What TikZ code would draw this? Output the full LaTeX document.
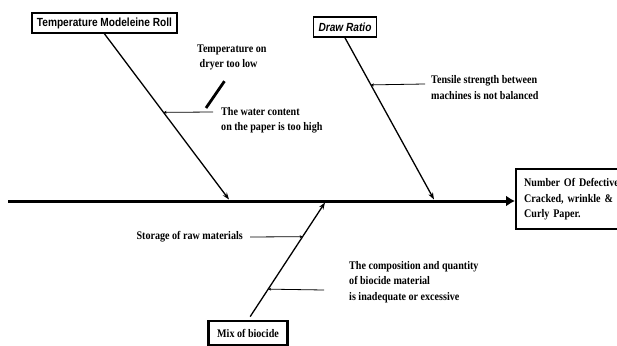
\documentclass[tikz,border=0pt]{standalone}
\usepackage{fontspec}
\setmainfont[FakeStretch=0.87]{Liberation Serif}
\newfontfamily\narrowsf[FakeStretch=0.86]{Liberation Sans}
\usetikzlibrary{arrows.meta, calc}

\begin{document}
\begin{tikzpicture}[
    x=1pt, y=-1pt,
    every node/.style={font=\bfseries\fontsize{11.6}{15.5}\selectfont, inner sep=0pt},
    cause/.style={draw, line width=1.7pt, minimum height=20pt, inner xsep=5pt,
        font=\narrowsf\bfseries\fontsize{11.8}{13}\selectfont},
    effect/.style={draw, line width=2.4pt, anchor=north west, minimum height=60pt,
        text width=110pt, inner xsep=8pt, align=left},
    note/.style={align=left},
    bone/.style={line width=1.3pt, -{Stealth[length=7pt, width=5pt]}},
    sub/.style={line width=0.8pt, -{Stealth[length=3pt, width=3pt]}},
    >=Latex
]
\useasboundingbox (0,0) rectangle (617,345);
\clip (0,0) rectangle (617,345);

% Nodes
\node[cause] (tmr) at (104.5,23) {Temperature Modeleine Roll};
\node[cause, font=\narrowsf\bfseries\itshape\fontsize{11.8}{13}\selectfont] (dr) at (345,27) {Draw Ratio};
\node[draw, line width=2.2pt, minimum width=79pt, minimum height=24pt] (mix) at (248,333) {Mix of biocide};
\node[effect] (eff) at (515,168) {Number Of Defective\\Cracked, wrinkle \&\\Curly Paper.};

\node[note, anchor=west] (temp) at (197,57.5) {Temperature on\\\ dryer too low};
\node[note, anchor=west] (water) at (221,120.5) {The water content\\on the paper is too high};
\node[note, anchor=west] (tens) at (431,87.5) {Tensile strength between\\machines is not balanced};
\node[note, anchor=east] (store) at (243,237) {Storage of raw materials};
\node[note, anchor=west] (comp) at (349,282) {The composition and quantity\\of biocide material\\is inadequate or excessive};

% Spine and bones
\coordinate (tail) at (8,201);
\coordinate (s1) at (229,199.5);
\coordinate (s2) at (434,199.5);
\coordinate (s3) at (325,202.5);

\draw[line width=3pt, -{Latex[length=9pt, width=11pt]}] (tail) -- (tail -| eff.west);
\draw[bone] (tmr.south) -- (s1);
\draw[bone] (dr.south) -- (s2);
\draw[bone, shorten <=4pt] (mix.north) -- (s3);

% Sub causes
\coordinate (b1) at ($(tmr.south)!0.474!(s1)$);
\coordinate (b2) at ($(dr.south)!0.291!(s2)$);
\coordinate (b3) at ($(s3)!0.291!(mix.north)$);
\coordinate (b4) at ($(s3)!0.738!(mix.north)$);
\coordinate (w1) at (213,112);
\coordinate (w2) at (425,84);
\coordinate (w3) at (250,237);
\coordinate (w4) at (324,290);
\coordinate (k1) at (206,108);

\draw[sub] (w1) -- (b1);
\draw[sub] (w2) -- (b2);
\draw[sub] (w3) -- (b3);
\draw[sub] (w4) -- (b4);
\draw[line width=2.8pt, shorten >=13pt] (k1) -- (temp.south);

\end{tikzpicture}
\end{document}
